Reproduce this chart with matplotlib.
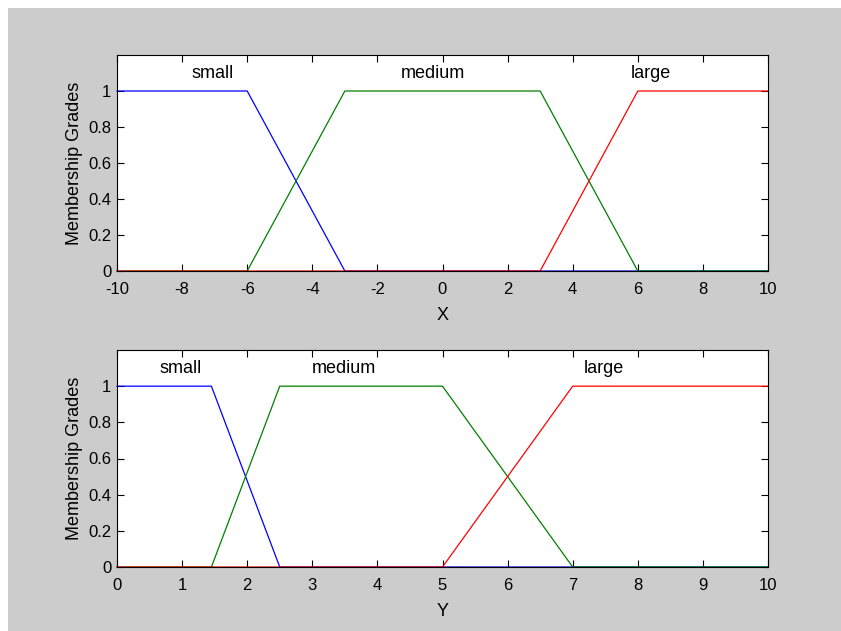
import numpy as np
import matplotlib
matplotlib.use("Agg")
import matplotlib.pyplot as plt
from matplotlib.patches import Rectangle

plt.rcParams['font.family'] = ['Liberation Sans', 'DejaVu Sans']

# membership functions, trapezoid params (a, b, c, d)
mf_names = ['small', 'medium', 'large']
x_range = [-10, 10]
x_params = [[-10, -10, -6, -3], [-6, -3, 3, 6], [3, 6, 10, 10]]
x_label_pos = [-7.05, -0.3, 6.4]
x_ticks = [-10, -8, -6, -4, -2, 0, 2, 4, 6, 8, 10]

y_range = [0, 10]
y_params = [[0, 0, 1.45, 2.5], [1.45, 2.5, 5, 7], [5, 7, 10, 10]]
y_label_pos = [0.98, 3.48, 7.48]
y_ticks = [0, 1, 2, 3, 4, 5, 6, 7, 8, 9, 10]

grade_ticks = [0, 0.2, 0.4, 0.6, 0.8, 1]
grade_ticklabels = ['0', '0.2', '0.4', '0.6', '0.8', '1']

colors = ['#0000ff', '#008000', '#ff0000']


def trap_line(p, lo, hi):
    # corner points of a trapezoid over [lo, hi]
    a, b, c, d = p
    xs = [lo, a, b, c, d, hi]
    ys = []
    for x in xs:
        if x < a or x > d:
            ys.append(0.0)
        elif b <= x <= c:
            ys.append(1.0)
        elif x < b:
            ys.append((x - a) / (b - a))
        else:
            ys.append((d - x) / (d - c))
    return xs, ys


fig = plt.figure(figsize=(8.41, 6.31), dpi=100, facecolor='white')
fig.patches.append(Rectangle((8 / 841, 0), 1, 1 - 8 / 631, transform=fig.transFigure,
                             facecolor='#cccccc', edgecolor='none', zorder=-10))

ax1 = fig.add_axes([117 / 841, (631 - 271) / 631, 651 / 841, 216 / 631])
ax2 = fig.add_axes([117 / 841, (631 - 567) / 631, 651 / 841, 217 / 631])

panels = [
    (ax1, x_params, x_range, x_label_pos, x_ticks, 'X'),
    (ax2, y_params, y_range, y_label_pos, y_ticks, 'Y'),
]

for ax, params, rng, lpos, ticks, name in panels:
    for p, col, lab, lx in zip(params, colors, mf_names, lpos):
        xs, ys = trap_line(p, rng[0], rng[1])
        ax.plot(xs, ys, color=col, lw=0.9, clip_on=False)
        ax.text(lx, 1.1, lab, ha='center', va='center', fontsize=13)
    ax.set_xlim(rng)
    ax.set_ylim(0, 1.2)
    ax.set_xticks(ticks)
    ax.set_xticklabels([str(t) for t in ticks])
    ax.set_yticks(grade_ticks)
    ax.set_yticklabels(grade_ticklabels)
    ax.tick_params(direction='in', top=True, right=True, length=5, width=0.8,
                   labelsize=12, colors='black')
    ax.tick_params(axis='x', pad=8)
    ax.tick_params(axis='y', pad=4)
    for s in ax.spines.values():
        s.set_linewidth(0.8)
    ax.set_xlabel(name, fontsize=13, labelpad=7)
    ax.set_ylabel('Membership Grades', fontsize=13, labelpad=4)

fig.savefig('out.png', dpi=100, facecolor=fig.get_facecolor())
